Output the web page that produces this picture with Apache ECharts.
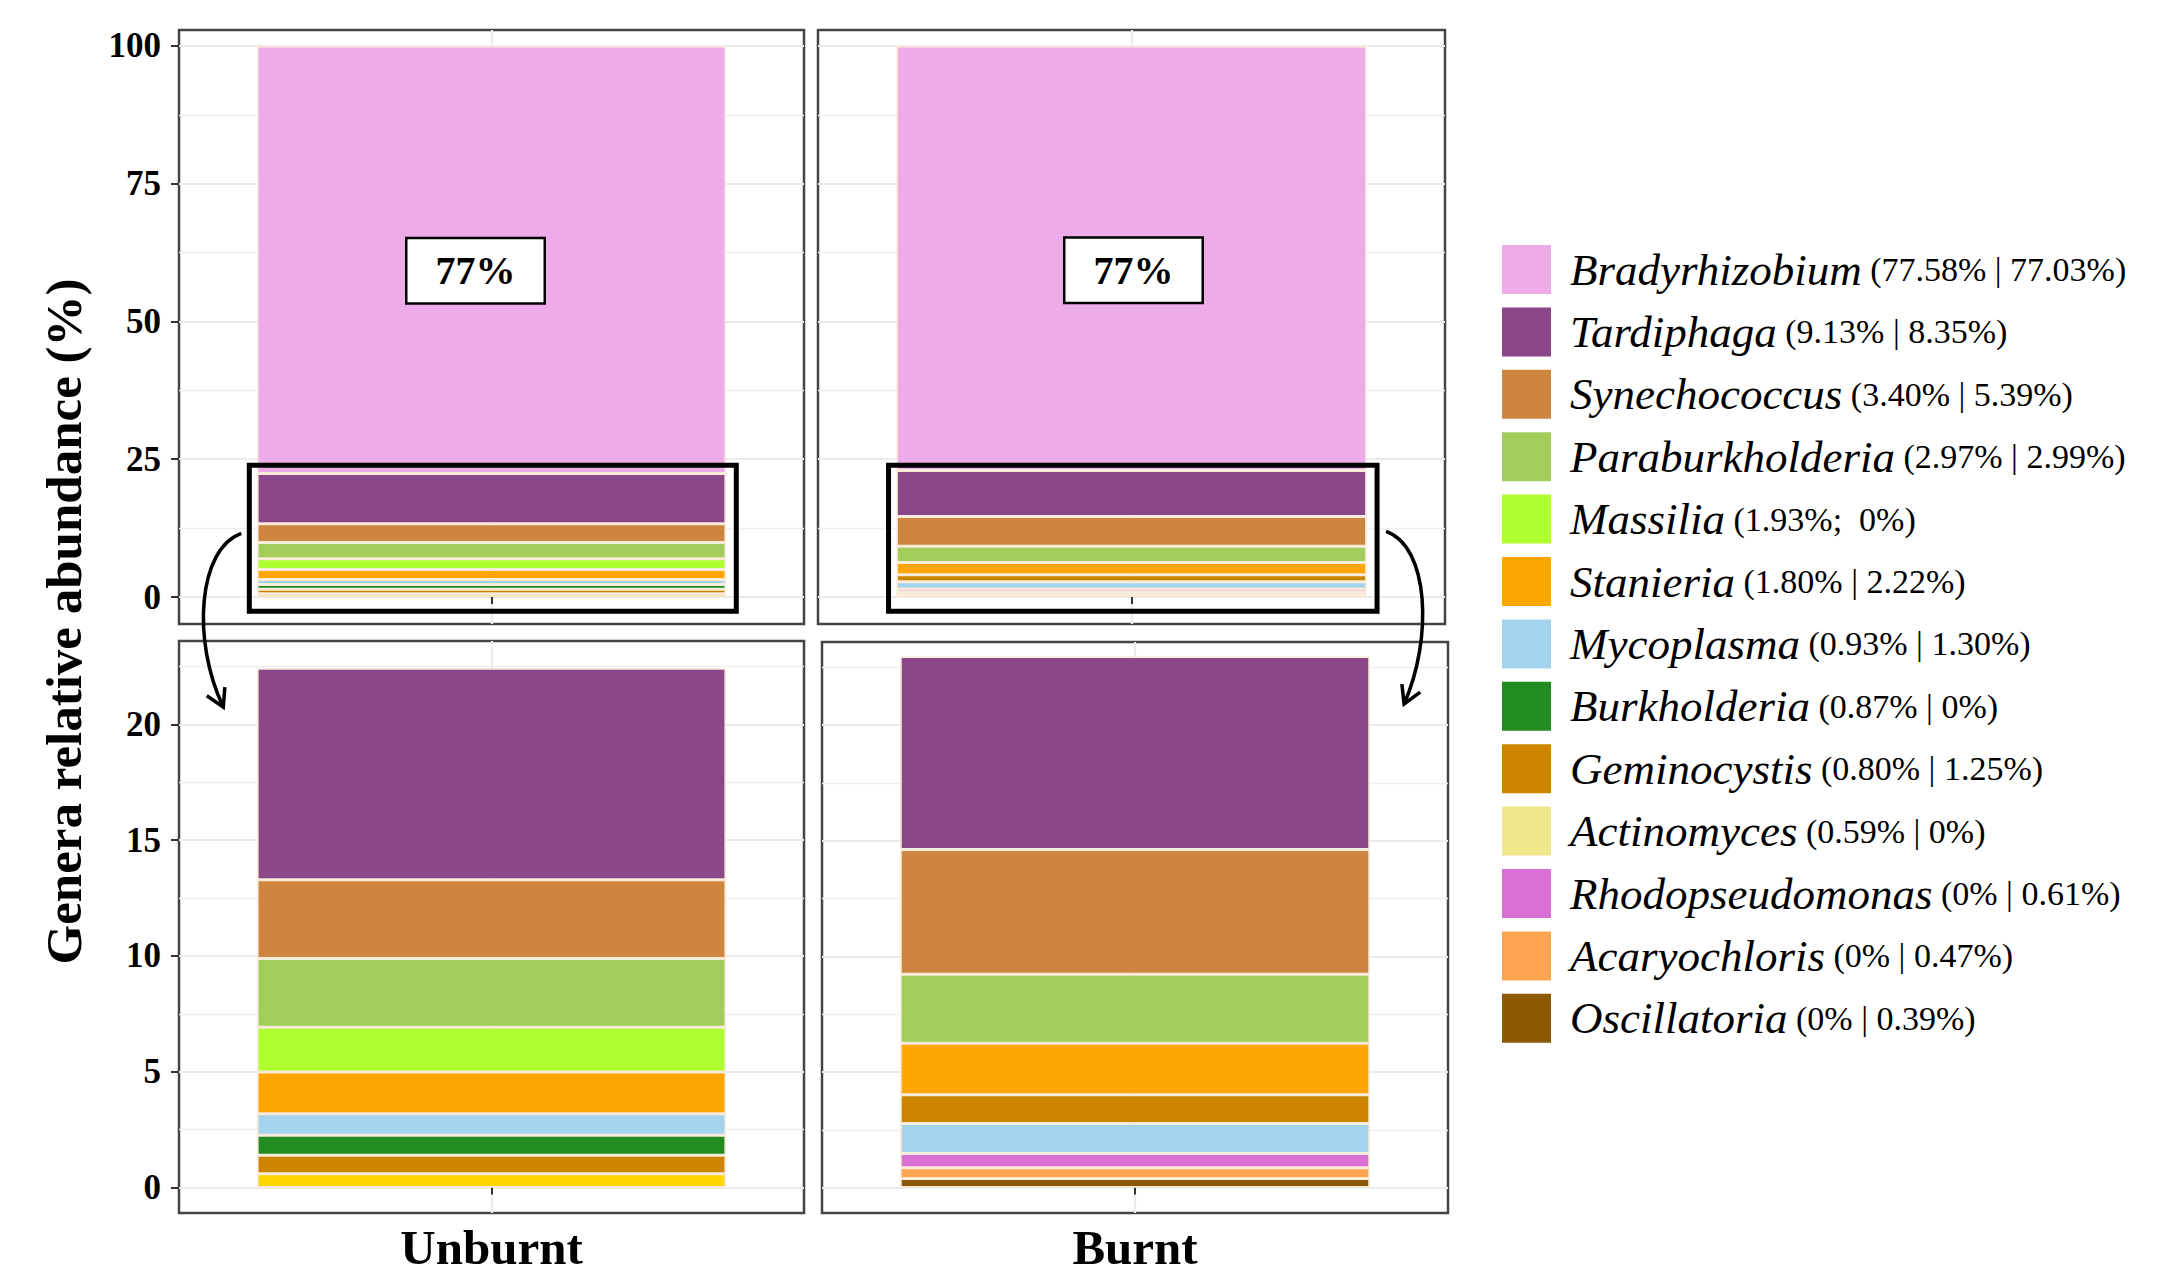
<!DOCTYPE html>
<html>
<head>
<meta charset="utf-8">
<title>Genera relative abundance</title>
<script src="https://cdn.jsdelivr.net/npm/echarts@6/dist/echarts.min.js"></script>
<style>
  html, body { margin: 0; padding: 0; background: #ffffff; }
  #chart { width: 2157px; height: 1275px; }
</style>
</head>
<body>
<div id="chart"></div>
<script>
// Genera, in legend order
const genera = ['Bradyrhizobium', 'Tardiphaga', 'Synechococcus', 'Paraburkholderia', 'Massilia', 'Stanieria',
  'Mycoplasma', 'Burkholderia', 'Geminocystis', 'Actinomyces', 'Rhodopseudomonas', 'Acaryochloris', 'Oscillatoria'];
// Relative abundance (%) of each genus per treatment
const unburnt = [77.58, 9.13, 3.40, 2.97, 1.93, 1.80, 0.93, 0.87, 0.80, 0.59, 0, 0, 0];
const burnt = [77.03, 8.35, 5.39, 2.99, 0, 2.22, 1.30, 0, 1.25, 0, 0.61, 0.47, 0.39];
const treatments = ['Unburnt', 'Burnt'];
// Stacking order of each bar, bottom to top
const unburntStack = ['Actinomyces', 'Geminocystis', 'Burkholderia', 'Mycoplasma', 'Stanieria', 'Massilia',
  'Paraburkholderia', 'Synechococcus', 'Tardiphaga', 'Bradyrhizobium'];
const burntStack = ['Oscillatoria', 'Acaryochloris', 'Rhodopseudomonas', 'Mycoplasma', 'Geminocystis', 'Stanieria',
  'Paraburkholderia', 'Synechococcus', 'Tardiphaga', 'Bradyrhizobium'];
// Separator between the two percentages in each legend entry
const legendSeparators = [' | ', ' | ', ' | ', ' | ', ';  ', ' | ', ' | ', ' | ', ' | ', ' | ', ' | ', ' | ', ' | '];
// Axis tick labels: full scale and the zoomed minor-genera scale
const fullTicks = [0, 25, 50, 75, 100];
const zoomTicks = [0, 5, 10, 15, 20];

const samples = [unburnt, burnt];
const stacks = [unburntStack, burntStack];

const SERIF = '"Liberation Serif", "Times New Roman", serif';
const palette = {
  Bradyrhizobium: '#EDABE9', Tardiphaga: '#8B4789', Synechococcus: '#CD853F', Paraburkholderia: '#A2CD5A',
  Massilia: '#ADFF2F', Stanieria: '#FFA500', Mycoplasma: '#A4D3EE', Burkholderia: '#228B22',
  Geminocystis: '#CD8500', Actinomyces: '#FFD700', Rhodopseudomonas: '#DA70D6', Acaryochloris: '#FFA54F',
  Oscillatoria: '#8B5A00'
};
const swatchColor = Object.assign({}, palette, { Actinomyces: '#F0E68C' });

// Four facets: full bars on top, minor genera enlarged below
const panels = [
  { grid: { left: 179, top: 30, width: 625, height: 594 }, sample: 0, range: [-4.9, 102.9], ticks: fullTicks, step: 25, brady: true, yLabels: true, xLabels: false },
  { grid: { left: 818, top: 30, width: 627, height: 594 }, sample: 1, range: [-4.9, 102.9], ticks: fullTicks, step: 25, brady: true, yLabels: false, xLabels: false },
  { grid: { left: 179, top: 641, width: 625, height: 572 }, sample: 0, range: [-1.1, 23.6], ticks: zoomTicks, step: 5, brady: false, yLabels: true, xLabels: true },
  { grid: { left: 822, top: 642, width: 626, height: 571 }, sample: 1, range: [-1.1, 23.6], ticks: zoomTicks, step: 5, brady: false, yLabels: false, xLabels: true }
];
const labelOffsets = [[-16, 11], [2, 12]];

const grid = [], xAxis = [], yAxis = [], series = [];
panels.forEach((p, pi) => {
  grid.push(Object.assign({ show: true, borderColor: '#444444', borderWidth: 2.5, backgroundColor: '#ffffff', containLabel: false }, p.grid));

  // category axis carrying the bar (index 2*pi)
  xAxis.push({
    type: 'category', gridIndex: pi, position: 'bottom', data: [treatments[p.sample]], boundaryGap: true,
    axisLine: { show: false }, axisTick: { show: false },
    axisLabel: {
      show: p.xLabels, margin: 10,
      fontFamily: SERIF, fontWeight: 'bold', fontSize: 49, color: '#000000'
    },
    splitLine: { show: false }
  });
  // companion axis for the centre grid line and tick (index 2*pi+1)
  xAxis.push({
    type: 'value', gridIndex: pi, position: 'bottom', min: 0.4, max: 1.6,
    axisLine: { show: false },
    axisTick: { show: true, length: 7, customValues: [1], lineStyle: { color: '#333333', width: 2 } },
    axisLabel: { show: false },
    splitLine: { show: true, lineStyle: { color: '#EBEBEB', width: 2.2 } }
  });

  const minor = p.ticks.map(v => v + p.step / 2).filter(v => v < p.range[1]);
  // minor grid lines (index 2*pi)
  yAxis.push({
    type: 'value', gridIndex: pi, position: 'left', min: p.range[0], max: p.range[1],
    axisLine: { show: false },
    axisTick: { show: false, customValues: minor },
    axisLabel: { show: false },
    splitLine: { show: true, lineStyle: { color: '#EFEFEF', width: 1.3 } }
  });
  // major grid lines, ticks and labels (index 2*pi+1)
  yAxis.push({
    type: 'value', gridIndex: pi, position: 'left', offset: 0, min: p.range[0], max: p.range[1],
    axisLine: { show: false },
    axisTick: { show: p.yLabels, length: 8, customValues: p.ticks, lineStyle: { color: '#333333', width: 2 } },
    axisLabel: {
      show: p.yLabels, customValues: p.ticks, margin: 18,
      fontFamily: SERIF, fontWeight: 'bold', fontSize: 35, color: '#000000'
    },
    splitLine: { show: true, lineStyle: { color: '#EBEBEB', width: 2.2 } }
  });

  const values = samples[p.sample];
  stacks[p.sample].forEach(name => {
    const v = values[genera.indexOf(name)];
    if (!v) return;
    if (name === 'Bradyrhizobium' && !p.brady) return;
    const s = {
      type: 'bar', name: name, xAxisIndex: 2 * pi, yAxisIndex: 2 * pi + 1, stack: 'panel' + pi,
      barWidth: '75%', data: [v],
      itemStyle: { color: palette[name], borderColor: '#F9E9D6', borderWidth: 1.5 },
      emphasis: { disabled: true }
    };
    if (name === 'Bradyrhizobium') {
      s.label = {
        show: true, position: 'inside', offset: labelOffsets[p.sample],
        formatter: d => Math.trunc(d.value) + '%',
        fontFamily: SERIF, fontWeight: 'bold', fontSize: 40, color: '#000000',
        backgroundColor: '#ffffff', borderColor: '#000000', borderWidth: 2.5,
        padding: [12, 28, 11, 28]
      };
    }
    series.push(s);
  });
});

const pct = v => (v === 0 ? '0%' : v.toFixed(2) + '%');

const option = {
  backgroundColor: '#ffffff',
  animation: false,
  grid, xAxis, yAxis, series,
  legend: {
    orient: 'vertical', left: 1502, top: 245, padding: 0,
    itemWidth: 49, itemHeight: 49, itemGap: 13.4, icon: 'rect',
    selectedMode: false,
    itemStyle: { borderWidth: 0 },
    data: genera.map(g => ({ name: g, itemStyle: { color: swatchColor[g], borderWidth: 0 } })),
    formatter: name => {
      const i = genera.indexOf(name);
      return '{s| }{g|' + name + '}{v| (' + pct(unburnt[i]) + legendSeparators[i] + pct(burnt[i]) + ')}';
    },
    textStyle: {
      color: '#000000',
      rich: {
        s: { width: 14, fontSize: 20, lineHeight: 49 },
        g: { fontFamily: SERIF, fontStyle: 'italic', fontSize: 45, lineHeight: 49, color: '#000000' },
        v: { fontFamily: SERIF, fontSize: 34, lineHeight: 49, color: '#000000' }
      }
    }
  }
};

const chart = echarts.init(document.getElementById('chart'), null, { renderer: 'svg', width: 2157, height: 1275 });
chart.setOption(option);

// Annotations: frames round the minor genera and arrows down to the enlarged panels
const px = (pi, x, y) => chart.convertToPixel({ xAxisIndex: 2 * pi + 1, yAxisIndex: 2 * pi + 1 }, [x, y]);
const minorTotal = Math.max.apply(null, samples.map(s => s.slice(1).reduce((a, b) => a + b, 0)));
const frames = [0, 1].map(pi => {
  const a = px(pi, 0.535, minorTotal + 0.93);
  const b = px(pi, 1.47, -2.6);
  return { x0: a[0], y0: a[1], x1: b[0], y1: b[1] };
});

function arrow(S, C1, C2, E) {
  const dx = E[0] - C2[0], dy = E[1] - C2[1];
  const L = Math.hypot(dx, dy), ux = dx / L, uy = dy / L;
  const len = 20, ang = Math.PI / 6;
  const arm = s => [E[0] - len * (ux * Math.cos(s * ang) - uy * Math.sin(s * ang)),
                    E[1] - len * (ux * Math.sin(s * ang) + uy * Math.cos(s * ang))];
  return [
    { type: 'bezierCurve', silent: true, z: 100,
      shape: { x1: S[0], y1: S[1], cpx1: C1[0], cpy1: C1[1], cpx2: C2[0], cpy2: C2[1], x2: E[0], y2: E[1] },
      style: { stroke: '#000000', lineWidth: 3.5, fill: null } },
    { type: 'polyline', silent: true, z: 100,
      shape: { points: [arm(1), E, arm(-1)] },
      style: { stroke: '#000000', lineWidth: 3.5, fill: null, lineJoin: 'miter' } }
  ];
}

const fL = frames[0], fR = frames[1];
const SL = [fL.x0 - 8, fL.y0 + 68], EL = [fL.x0 - 26, panels[2].grid.top + 66];
const SR = [fR.x1 + 9, fR.y0 + 66], ER = [fR.x1 + 27, panels[3].grid.top + 62];

const graphics = frames.map(f => ({
  type: 'rect', silent: true, z: 90,
  shape: { x: f.x0, y: f.y0, width: f.x1 - f.x0, height: f.y1 - f.y0 },
  style: { fill: null, stroke: '#000000', lineWidth: 5 }
}));
graphics.push.apply(graphics, arrow(SL, [SL[0] - 43, SL[1] + 15], [SL[0] - 50, SL[1] + 107], EL));
graphics.push.apply(graphics, arrow(SR, [SR[0] + 43, SR[1] + 15], [SR[0] + 47, SR[1] + 107], ER));
graphics.push({
  type: 'text', silent: true, z: 100,
  x: 64, y: (panels[0].grid.top + panels[2].grid.top + panels[2].grid.height) / 2,
  rotation: Math.PI / 2,
  style: {
    text: 'Genera relative abundance (%)', fill: '#000000',
    fontFamily: SERIF, fontWeight: 'bold', fontSize: 51,
    align: 'center', verticalAlign: 'middle', textAlign: 'center', textVerticalAlign: 'middle'
  }
});
chart.setOption({ graphic: graphics });
</script>
</body>
</html>
